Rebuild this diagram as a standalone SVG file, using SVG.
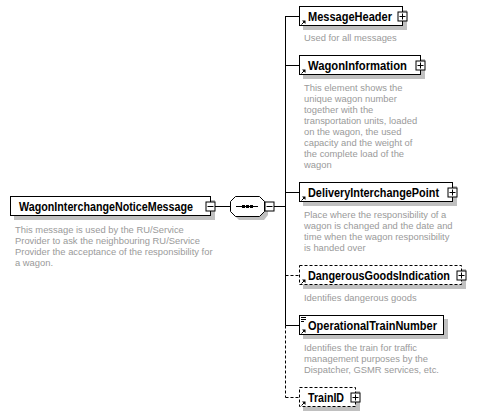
<svg xmlns="http://www.w3.org/2000/svg" width="477" height="417" viewBox="0 0 477 417">
<style>
.bg{fill:#ffffff}
.box{fill:#ffffff;stroke:#000000;stroke-width:1}
.dbox{fill:#ffffff;stroke:#000000;stroke-width:1;stroke-dasharray:3,2}
.sh{fill:#c0c0c0}
.name{font-family:"Liberation Sans",Arial,sans-serif;font-weight:bold;font-size:12.3px;fill:#000000}
.desc{font-family:"Liberation Sans",Arial,sans-serif;font-size:9.4px;fill:#9a9a9a}
.ln{stroke:#000000;stroke-width:1;fill:none}
.dln{stroke:#000000;stroke-width:1;fill:none;stroke-dasharray:3,2}
.pm{fill:#ffffff;stroke:#000000;stroke-width:1}
</style>
<defs>
<g id="plus"><rect class="pm" x="-4.5" y="-4.5" width="9" height="9"/><path class="ln" d="M-3,0H3M0,-3V3"/></g>
<g id="minus"><rect class="pm" x="-4.5" y="-4.5" width="9" height="9"/><path class="ln" d="M-3,0H3"/></g>
<g id="ref"><path class="ln" d="M0.5,3.5L3.5,0.5"/><path d="M4.5,-0.5L4.5,3L1,-0.5Z" fill="#000"/></g>
</defs>
<rect class="bg" x="0" y="0" width="477" height="417"/>
<g id="connectors">
<path class="ln" d="M215,206.5H230"/>
<path class="ln" d="M274,206.5H285.5"/>
<path class="ln" d="M285.5,16V325.5"/>
<path class="dln" d="M285.5,325.5V397.5"/>
<path class="ln" d="M285.5,16.5H299"/>
<path class="ln" d="M285.5,65.5H299"/>
<path class="ln" d="M285.5,192.5H299"/>
<path class="dln" d="M285.5,275.5H299"/>
<path class="ln" d="M285.5,325.5H299"/>
<path class="dln" d="M285.5,397.5H299"/>
</g>
<g id="root">
<rect class="sh" x="14" y="200" width="201" height="20"/>
<rect class="box" x="10.5" y="196.5" width="200" height="19"/>
<text class="name" x="19" y="210.8" textLength="174" lengthAdjust="spacingAndGlyphs">WagonInterchangeNoticeMessage</text>
<use href="#minus" x="210.5" y="206.5"/>
<text class="desc" x="15" y="233">This message is used by the RU/Service</text>
<text class="desc" x="15" y="244">Provider to ask the neighbouring RU/Service</text>
<text class="desc" x="15" y="255">Provider the acceptance of the responsibility for</text>
<text class="desc" x="15" y="266">a wagon.</text>
</g>
<g id="sequence">
<path class="sh" d="M239,200H264L268,205V215L264,220H239L234,215V205Z"/>
<path class="box" d="M235.5,196.5H259.5L264.5,201.5V211.5L259.5,216.5H235.5L230.5,211.5V201.5Z"/>
<path class="ln" d="M236,206.5H258"/>
<rect x="242" y="205" width="3" height="3" fill="#000"/>
<rect x="246" y="205" width="3" height="3" fill="#000"/>
<rect x="250" y="205" width="3" height="3" fill="#000"/>
<use href="#minus" x="269.5" y="206.5"/>
</g>
<g id="MessageHeader">
<rect class="sh" x="303" y="10" width="104" height="20"/>
<rect class="box" x="299.5" y="6.5" width="103" height="19"/>
<use href="#ref" x="301" y="21"/>
<text class="name" x="308" y="20.8" textLength="84" lengthAdjust="spacingAndGlyphs">MessageHeader</text>
<use href="#plus" x="402.5" y="16.5"/>
<text class="desc" x="304" y="41">Used for all messages</text>
</g>
<g id="WagonInformation">
<rect class="sh" x="303" y="59" width="122" height="20"/>
<rect class="box" x="299.5" y="55.5" width="121" height="19"/>
<use href="#ref" x="301" y="70"/>
<text class="name" x="308" y="69.8" textLength="99" lengthAdjust="spacingAndGlyphs">WagonInformation</text>
<use href="#plus" x="420.5" y="65.5"/>
<text class="desc" x="304" y="91">This element shows the</text>
<text class="desc" x="304" y="102">unique wagon number</text>
<text class="desc" x="304" y="113">together with the</text>
<text class="desc" x="304" y="124">transportation units, loaded</text>
<text class="desc" x="304" y="135">on the wagon, the used</text>
<text class="desc" x="304" y="146">capacity and the weight of</text>
<text class="desc" x="304" y="157">the complete load of the</text>
<text class="desc" x="304" y="168">wagon</text>
</g>
<g id="DeliveryInterchangePoint">
<rect class="sh" x="303" y="186" width="154" height="20"/>
<rect class="box" x="299.5" y="182.5" width="153" height="19"/>
<use href="#ref" x="301" y="197"/>
<text class="name" x="308" y="196.8" textLength="131" lengthAdjust="spacingAndGlyphs">DeliveryInterchangePoint</text>
<use href="#plus" x="452.5" y="192.5"/>
<text class="desc" x="304" y="218">Place where the responsibility of a</text>
<text class="desc" x="304" y="229">wagon is changed and the date and</text>
<text class="desc" x="304" y="240">time when the wagon responsibility</text>
<text class="desc" x="304" y="251">is handed over</text>
</g>
<g id="DangerousGoodsIndication">
<rect class="sh" x="303" y="269" width="163" height="20"/>
<rect class="dbox" x="299.5" y="265.5" width="162" height="19"/>
<use href="#ref" x="301" y="280"/>
<text class="name" x="308" y="279.8" textLength="142" lengthAdjust="spacingAndGlyphs">DangerousGoodsIndication</text>
<use href="#plus" x="461.5" y="275.5"/>
<text class="desc" x="304" y="301">Identifies dangerous goods</text>
</g>
<g id="OperationalTrainNumber">
<rect class="sh" x="303" y="319" width="145" height="20"/>
<rect class="box" x="299.5" y="315.5" width="144" height="19"/>
<path class="ln" d="M301,317.5H306M301,319.5H306M301,321.5H304"/>
<use href="#ref" x="301" y="330"/>
<text class="name" x="308" y="329.8" textLength="129" lengthAdjust="spacingAndGlyphs">OperationalTrainNumber</text>
<text class="desc" x="304" y="351">Identifies the train for traffic</text>
<text class="desc" x="304" y="362">management purposes by the</text>
<text class="desc" x="304" y="373">Dispatcher, GSMR services, etc.</text>
</g>
<g id="TrainID">
<rect class="sh" x="303" y="391" width="57" height="20"/>
<rect class="dbox" x="299.5" y="387.5" width="56" height="19"/>
<use href="#ref" x="301" y="402"/>
<text class="name" x="308" y="401.8" textLength="36" lengthAdjust="spacingAndGlyphs">TrainID</text>
<use href="#plus" x="355.5" y="397.5"/>
</g>
</svg>
